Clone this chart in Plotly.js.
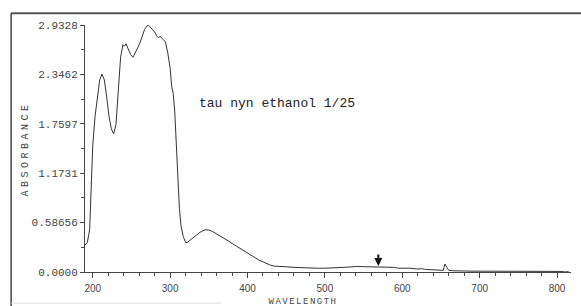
<!DOCTYPE html>
<html>
<head>
<meta charset="utf-8">
<script src="https://cdn.plot.ly/plotly-3.0.1.min.js"></script>
<style>html,body{margin:0;padding:0;background:#fff;}#chart{width:581px;height:306px;}</style>
</head>
<body>
<div id="chart"></div>
<script>
// Wavelength (nm) and absorbance
const wavelength = [190,193,196,198,200,203,206,209,212,215,218,221,224,227,230,233,236,239,241,243,246,249,252,255,258,261,264,267,270,272,274,277,280,283,285,287,289,291,294,297,300,302,304,306,308,310,312,314,317,320,322,326,330,335,340,345,350,355,360,365,370,375,380,385,390,395,400,405,410,415,420,425,430,435,440,450,460,470,480,490,500,510,520,530,540,550,560,570,575,580,585,590,595,600,605,610,620,625,630,640,650,653,655,657,660,665,670,680,690,700,710,720,730,740,750,755,760,765,770,775,780,785,790,795,800,805,810,815];
const absorbance = [0.32,0.35,0.50,0.95,1.50,1.85,2.10,2.28,2.35,2.28,2.08,1.85,1.70,1.64,1.75,2.15,2.55,2.70,2.68,2.71,2.64,2.58,2.55,2.60,2.66,2.72,2.80,2.88,2.92,2.93,2.91,2.88,2.85,2.80,2.78,2.80,2.78,2.77,2.73,2.60,2.42,2.20,2.12,1.90,1.50,1.15,0.75,0.55,0.42,0.35,0.35,0.38,0.41,0.45,0.48,0.50,0.50,0.48,0.455,0.43,0.40,0.37,0.34,0.31,0.28,0.25,0.22,0.19,0.165,0.14,0.12,0.10,0.08,0.07,0.065,0.062,0.055,0.05,0.047,0.045,0.045,0.047,0.05,0.058,0.065,0.063,0.062,0.06,0.052,0.055,0.05,0.055,0.045,0.048,0.043,0.045,0.035,0.04,0.03,0.025,0.018,0.02,0.095,0.06,0.02,0.015,0.012,0.012,0.01,0.01,0.008,0.007,0.006,0.006,0.004,0.008,0.003,0.009,0.003,0.008,0.002,0.008,0.002,0.007,0.002,0.007,0.001,0.005];
const yTickVals = [0, 0.58656, 1.1731, 1.7597, 2.3462, 2.9328];
const yTickText = ["0.0000", "0.58656", "1.1731", "1.7597", "2.3462", "2.9328"];
const xTickVals = [200, 300, 400, 500, 600, 700, 800];
const sampleLabel = "tau nyn ethanol 1/25";
const markerWavelength = 569;

const mono = "Liberation Mono, DejaVu Sans Mono, monospace";
const trace = {
  x: wavelength, y: absorbance, type: 'scatter', mode: 'lines',
  line: {color: '#333333', width: 1}, hoverinfo: 'skip'
};
const layout = {
  width: 581, height: 306,
  margin: {l: 85, r: 10, t: 25, b: 34},
  paper_bgcolor: '#ffffff', plot_bgcolor: '#ffffff',
  showlegend: false,
  xaxis: {
    range: [190, 818], showgrid: false, zeroline: false,
    showline: true, linecolor: '#444', linewidth: 1,
    tickmode: 'array', tickvals: xTickVals,
    ticks: 'outside', ticklen: 5, tickcolor: '#444', tickwidth: 1,
    ticklabelstandoff: 2,
    tickfont: {family: "Liberation Sans, Arial, sans-serif", size: 10, color: '#444'},
    minor: {ticks: 'outside', ticklen: 3, tickcolor: '#444', tickmode: 'linear', tick0: 200, dtick: 20},
    title: {text: ''}
  },
  yaxis: {
    range: [0, 2.9328], showgrid: false, zeroline: false,
    showline: true, linecolor: '#444', linewidth: 1,
    tickmode: 'array', tickvals: yTickVals, ticktext: yTickText,
    ticks: 'outside', ticklen: 4, tickcolor: '#444', tickwidth: 1,
    tickfont: {family: mono, size: 11, color: '#444'},
    minor: {ticks: 'outside', ticklen: 3, tickcolor: '#444', tickmode: 'linear', tick0: 0, dtick: 0.29328},
    title: {text: ''}
  },
  annotations: [
    {x: 0.395, y: 0.72, xref: 'paper', yref: 'paper', text: sampleLabel, showarrow: false,
     font: {family: mono, size: 13, color: '#222'}},
    {x: -0.138, y: 0.5, xref: 'paper', yref: 'paper', text: 'ABSORBANCE', textangle: -90, showarrow: false,
     font: {family: mono, size: 10, color: '#444'}},
    {x: 0.4485, y: -0.1215, xref: 'paper', yref: 'paper', text: 'WAVELENGTH', showarrow: false,
     yanchor: 'middle', font: {family: mono, size: 9, color: '#444'}},
    {x: markerWavelength, y: 0.07, xref: 'x', yref: 'y', ax: 0, ay: -13, text: '', showarrow: true,
     arrowhead: 2, arrowsize: 0.8, arrowwidth: 2, arrowcolor: '#111'}
  ],
  shapes: [
    {type: 'line', xref: 'paper', yref: 'paper', x0: -0.152, x1: 1.03, y0: 1.048, y1: 1.048,
     line: {color: '#555', width: 2}},
    {type: 'line', xref: 'paper', yref: 'paper', x0: -0.152, x1: -0.152, y0: 1.048, y1: -0.15,
     line: {color: '#444', width: 1.5}},
    {type: 'line', xref: 'paper', yref: 'paper', x0: -0.152, x1: 0.28, y0: -0.126, y1: -0.126,
     line: {color: '#ddd', width: 1}}
  ]
};
Plotly.newPlot('chart', [trace], layout, {staticPlot: true, displayModeBar: false}).then(function(){
  document.querySelectorAll('.annotation-text').forEach(function(t){
    if (t.textContent === 'ABSORBANCE') t.style.letterSpacing = '3.5px';
    if (t.textContent === 'WAVELENGTH') t.style.letterSpacing = '1.5px';
  });
});
</script>
</body>
</html>
